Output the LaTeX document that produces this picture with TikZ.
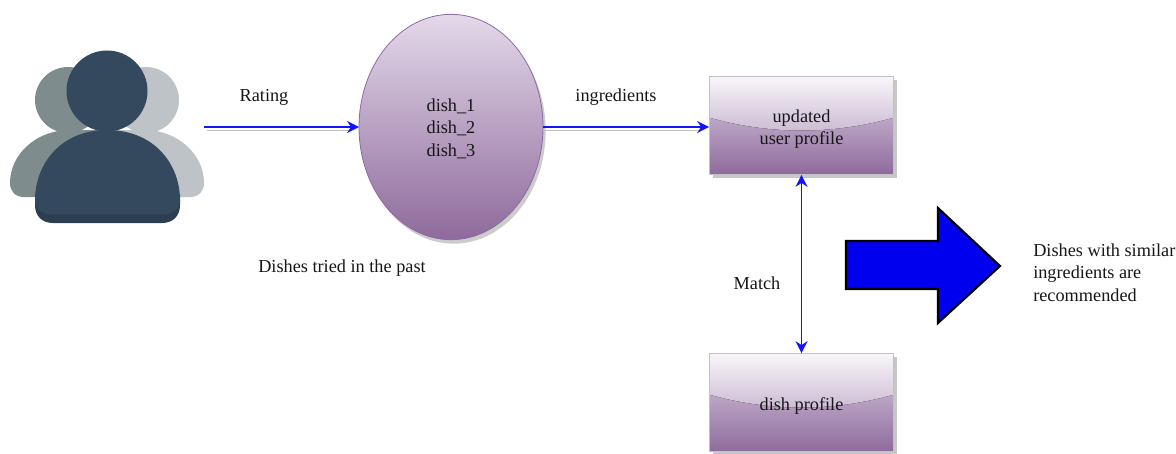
\documentclass[tikz,border=0pt]{standalone}
\usepackage{fontspec}
\setmainfont{Liberation Serif}
\usetikzlibrary{shapes.geometric,arrows.meta,shadows}
\definecolor{purpleTop}{HTML}{E4D9EA}
\definecolor{purpleMid}{HTML}{DFD3E5}
\definecolor{purpleBot}{HTML}{8E6A9C}
\definecolor{purpleLine}{HTML}{8B6BA0}
\definecolor{glossTop}{HTML}{F9F6FA}
\definecolor{glossBot}{HTML}{A98FB5}
\definecolor{frontBlue}{HTML}{34495E}
\definecolor{frontBand}{HTML}{2C3E50}
\definecolor{backLeft}{HTML}{7F8C8D}
\definecolor{backRight}{HTML}{BDC3C7}
\definecolor{linkBlue}{HTML}{1414F8}
\definecolor{bigBlue}{HTML}{0000EE}
\definecolor{boxLine}{HTML}{C4C0C8}
\definecolor{txt}{HTML}{161616}
\tikzset{
  x=0.75pt, y=-0.75pt,
  label text/.style={font=\fontsize{13.7}{16.9}\selectfont, text=txt, inner sep=0pt, align=left},
  dish oval/.style={ellipse, draw=purpleLine, line width=0.6pt, top color=purpleTop, bottom color=purpleBot,
     minimum width=138pt, minimum height=169pt, inner sep=0pt, outer sep=0pt,
     drop shadow={shadow xshift=2pt, shadow yshift=-3pt, fill=black, opacity=0.2},
     font=\fontsize{13.7}{16.9}\selectfont, text=txt, align=center},
  profile box/.style={rectangle, draw=boxLine, line width=0.8pt, top color=purpleMid, bottom color=purpleBot,
     minimum width=138.5pt, minimum height=74pt, inner sep=0pt, outer sep=0pt,
     font=\fontsize{13.7}{16.9}\selectfont, text=txt, align=center,
     drop shadow={shadow xshift=2.5pt, shadow yshift=-2.5pt, fill=black, opacity=0.22},
     path picture={
       \fill[top color=glossTop, bottom color=glossBot]
         (path picture bounding box.north west) --
         (path picture bounding box.north east) --
         ([yshift=-31pt]path picture bounding box.north east)
         .. controls ([xshift=-46pt,yshift=-44pt]path picture bounding box.north east)
         and ([xshift=46pt,yshift=-44pt]path picture bounding box.north west)
         .. ([yshift=-31pt]path picture bounding box.north west) -- cycle;
     }},
  link/.style={draw=linkBlue, line width=1.2pt, -{Stealth[length=9pt,width=9pt]}},
  two way/.style={draw=linkBlue, line width=1.2pt, {Stealth[length=9pt,width=9pt]}-{Stealth[length=9pt,width=9pt]}},
  link shadow/.style={draw=black!25, line width=0.9pt},
  big arrow/.style={fill=bigBlue, draw=black, line width=1.6pt, line join=miter}
}
\begin{document}
\begin{tikzpicture}
\useasboundingbox (0,0) rectangle (1176,453);
% user icon
\fill[backLeft] (68,100) circle[radius=33];
\fill[backLeft] (10,183) .. controls (10,155) and (35,131) .. (68,130) -- (110,130) -- (110,197) -- (24,197) .. controls (15,197) and (10,191) .. (10,183) -- cycle;
\fill[backRight] (146,100) circle[radius=33];
\fill[backRight] (204,183) .. controls (204,155) and (179,131) .. (146,130) -- (110,130) -- (110,197) -- (190,197) .. controls (199,197) and (204,191) .. (204,183) -- cycle;
\fill[frontBand] (35,195) -- (35,205) .. controls (35,216) and (42,223) .. (53,223) -- (162,223) .. controls (173,223) and (180,216) .. (180,205) -- (180,195) -- cycle;
\fill[frontBlue] (35,200) .. controls (35,165) and (60,130) .. (107,130) .. controls (155,130) and (180,165) .. (180,200) -- (180,201) .. controls (180,209) and (173,214) .. (165,214) -- (50,214) .. controls (42,214) and (35,209) .. (35,201) -- cycle;
\fill[frontBlue] (107,91) circle[radius=40.5];
% nodes
\coordinate (user) at (204,127);
\node[dish oval] (dishes) at (451,127) {\rule{0pt}{11.6pt}dish\_1\\dish\_2\\dish\_3};
\node[profile box] (updated) at (801.5,125.5) {\rule{0pt}{14.6pt}updated\\user profile};
\node[profile box] (profile) at (801.5,402.5) {\rule{0pt}{15.4pt}dish profile};
% connector shadows
\draw[link shadow] ([xshift=2pt,yshift=-2.4pt]user) -- ([xshift=-6pt,yshift=-2.4pt]dishes.west);
\draw[link shadow] ([yshift=-2.4pt]dishes.east) -- ([xshift=-6pt,yshift=-2.4pt]updated.west |- dishes.east);
% connectors
\draw[link] (user) -- (dishes.west);
\draw[link] (dishes.east) -- (updated.west |- dishes.east);
\draw[two way] (updated.south) -- (profile.north);
% big arrow
\draw[big arrow] (846,241) -- (938,241) -- (938,208) -- (1000,266) -- (938,323) -- (938,289) -- (846,289) -- cycle;
% labels
\node[label text] (rating) at (264,97) {Rating};
\node[label text] (ingredients) at (616,97) {ingredients};
\node[label text] (past) at (342,268) {Dishes tried in the past};
\node[label text] (match) at (757,283) {Match};
\node[label text, anchor=west] (similar) at (1033,272.5) {Dishes with similar\\ingredients are\\recommended};
\end{tikzpicture}
\end{document}
